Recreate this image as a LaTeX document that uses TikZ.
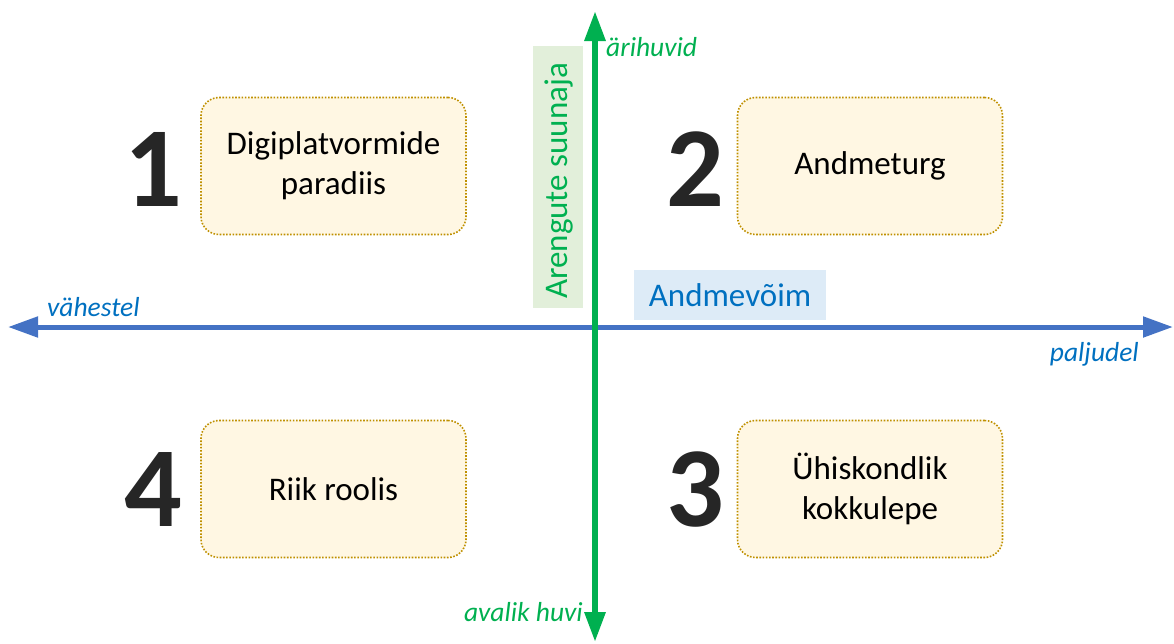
\documentclass[tikz,border=0pt]{standalone}
\usepackage{fontspec}
\setmainfont{Carlito}
\usetikzlibrary{arrows.meta}
\definecolor{agreen}{HTML}{00B050}
\definecolor{ablue}{HTML}{4472C4}
\definecolor{tblue}{HTML}{0070C0}
\definecolor{lgreen}{HTML}{E2EFDA}
\definecolor{lblue}{HTML}{DDEBF7}
\definecolor{cream}{HTML}{FFF7E3}
\definecolor{gold}{HTML}{BF9000}
\definecolor{numgray}{HTML}{262626}
\tikzset{
  qbox/.style={draw=gold, line width=1.6pt, dash pattern=on 1.6pt off 1.6pt, fill=cream,
    rounded corners=18pt, minimum width=265pt, minimum height=137pt, align=center,
    font=\fontsize{33pt}{40pt}\selectfont, inner sep=0pt},
  bignum/.style={font=\fontsize{114pt}{114pt}\selectfont\bfseries, text=numgray, inner sep=0pt},
  axlabel/.style={font=\fontsize{27.5pt}{32pt}\selectfont\itshape, inner sep=0pt},
}
\begin{document}
\begin{tikzpicture}[x=1pt,y=-1pt]
\useasboundingbox (0,0) rectangle (1174,643);
% label backgrounds
\node[fill=lgreen, minimum width=50pt, minimum height=262pt, inner sep=0pt] (vlab) at (558,177) {};
\node[rotate=90, text=agreen, font=\fontsize{33pt}{40pt}\selectfont, inner sep=0pt] at (559,181) {Arengute suunaja};
\node[fill=lblue, minimum width=192pt, minimum height=50pt, inner sep=0pt, text=tblue,
  font=\fontsize{33pt}{40pt}\selectfont] (hlab) at (730,295) {Andmevõim};
% axes
\coordinate (L) at (8,327);
\coordinate (R) at (1173,327);
\coordinate (T) at (595,11);
\coordinate (B) at (595,642);
\draw[ablue, line width=5pt, {Triangle[width=20pt,length=30pt]}-{Triangle[width=20pt,length=30pt]}] (L) -- (R);
\draw[agreen, line width=6pt, {Triangle[width=20pt,length=30pt]}-{Triangle[width=20pt,length=30pt]}] (B) -- (T);
% axis labels
\node[axlabel, text=agreen, anchor=west] (ar) at (606,47) {ärihuvid};
\node[axlabel, text=tblue, anchor=west] (va) at (47,307) {vähestel};
\node[axlabel, text=tblue, anchor=east] (pa) at (1139,354) {paljudel};
\node[axlabel, text=agreen, anchor=east] (ah) at (583,612) {avalik huvi};
% boxes
\node[qbox] (b1) at (333.5,166) {Digiplatvormide\\paradiis};
\node[qbox] (b2) at (870,166) {Andmeturg};
\node[qbox] (b4) at (333.5,489) {Riik roolis};
\node[qbox] (b3) at (870,489) {Ühiskondlik\\kokkulepe};
% numbers
\node[bignum] (n1) at (153,169) {1};
\node[bignum] (n2) at (695,169) {2};
\node[bignum] (n4) at (153,490) {4};
\node[bignum] (n3) at (695,490) {3};
\end{tikzpicture}
\end{document}
